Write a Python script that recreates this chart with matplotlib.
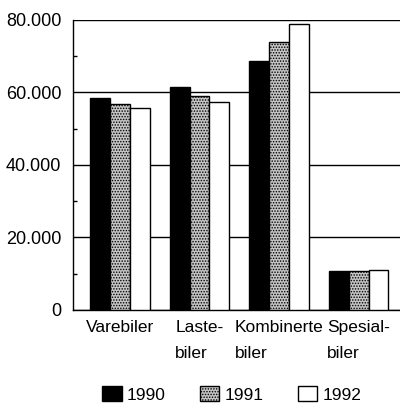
import matplotlib
matplotlib.use("Agg")
import matplotlib.pyplot as plt
import numpy as np
from matplotlib.patches import Patch

categories = ["Varebiler", "Laste-\nbiler", "Kombinerte\nbiler", "Spesial-\nbiler"]
years = ["1990", "1991", "1992"]
v1990 = [58500, 61500, 68700, 10800]
v1991 = [56800, 59000, 73900, 10800]
v1992 = [55700, 57400, 78900, 11000]
yticks = [0, 20000, 40000, 60000, 80000]
ytick_labels = ["0", "20.000", "40.000", "60.000", "80.000"]

plt.rcParams['font.family'] = ['Liberation Sans', 'DejaVu Sans']
plt.rcParams['hatch.linewidth'] = 0.7
fs = 12.5

fig = plt.figure(figsize=(4.0, 4.04), dpi=100)
ax = fig.add_axes([0.1825, 0.2327, 0.8175, 0.7178])

x = np.arange(len(categories))
w = 0.25
styles = [dict(facecolor="black", hatch=None),
          dict(facecolor="#c4c4c4", hatch="......"),
          dict(facecolor="white", hatch=None)]
series = [v1990, v1991, v1992]
for i, (vals, st) in enumerate(zip(series, styles)):
    ax.bar(x + (i - 1) * w, vals, w, facecolor=st["facecolor"], hatch=st["hatch"],
           edgecolor="black", linewidth=1.0, zorder=3)

ax.set_xlim(-0.59, 3.52)
ax.set_ylim(0, 80000)
ax.set_yticks(yticks)
ax.set_yticklabels(ytick_labels, fontsize=13)
ax.set_yticks([10000, 30000, 50000, 70000], minor=True)
ax.tick_params(axis="y", which="major", length=0, pad=8.5)
ax.tick_params(axis="y", which="minor", length=3, direction="in", width=1)
ax.yaxis.grid(True, which="major", color="black", linewidth=1.0, zorder=0)
ax.set_axisbelow(True)

ax.set_xticks(x)
ax.set_xticklabels(categories, fontsize=fs, multialignment="left", linespacing=1.9)
ax.tick_params(axis="x", length=0, pad=7.5)

for s in ["top", "right"]:
    ax.spines[s].set_visible(False)
ax.spines["left"].set_linewidth(1.0)
ax.spines["bottom"].set_linewidth(1.0)

handles = [Patch(facecolor=st["facecolor"], hatch=st["hatch"], edgecolor="black", linewidth=1.0)
           for st in styles]
fig.legend(handles, years, loc="center", bbox_to_anchor=(0.58, 0.024), ncol=3,
           frameon=False, fontsize=fs, handlelength=1.1, handleheight=1.0,
           handletextpad=0.3, columnspacing=2.0)

fig.savefig("out.png", dpi=100)
